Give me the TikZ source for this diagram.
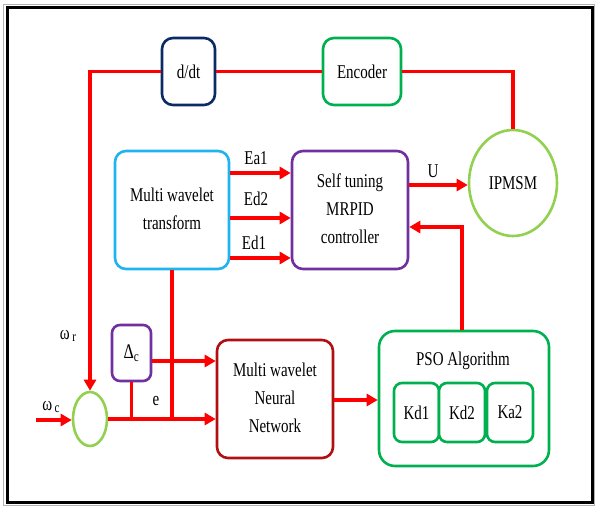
\documentclass[tikz,border=0pt]{standalone}
\usepackage{fontspec}
\setmainfont{Liberation Serif}
\usepackage{graphicx}
\usetikzlibrary{arrows.meta,shapes.geometric,calc}
\definecolor{navyb}{HTML}{0B2A66}
\definecolor{grn}{HTML}{00B050}
\definecolor{lgrn}{HTML}{92D050}
\definecolor{cyanb}{HTML}{1FB4F0}
\definecolor{purp}{HTML}{7030A0}
\definecolor{dred}{HTML}{B01010}
\definecolor{wirec}{HTML}{FF0000}
\newcommand\vt[1]{\scalebox{1}[1.3]{#1}}
\newcommand\ml[1]{\vt{\begin{tabular}{@{}c@{}}#1\end{tabular}}}
\begin{document}
\begin{tikzpicture}[x=1pt,y=-1pt,
  box/.style={draw, line width=2.6pt, rounded corners=11pt, align=center, inner sep=0pt, fill=white, font=\fontsize{15}{21.5}\selectfont},
  circ/.style={draw=lgrn, line width=2.6pt, ellipse, inner sep=0pt, font=\fontsize{15}{18}\selectfont},
  wire/.style={draw=wirec, line width=3.2pt},
  arr/.style={wire, -{Triangle[length=11pt,width=12pt]}},
  lab/.style={font=\fontsize{15}{18}\selectfont, inner sep=0pt}]
\useasboundingbox (0,0) rectangle (595,506);
\draw[gray!60, line width=1pt] (3.5,4) rectangle (594.5,505);
\draw[line width=3pt] (7,7.5) rectangle (592,502);
% nodes
\node[box, draw=navyb, minimum width=53pt, minimum height=67pt] (ddt) at (188.5,71.5) {\vt{d/dt}};
\node[box, draw=grn, minimum width=78pt, minimum height=67pt] (enc) at (362,71.5) {\vt{Encoder}};
\node[circ, minimum width=88pt, minimum height=106pt] (ipm) at (513,183) {\vt{IPMSM}};
\node[box, draw=cyanb, minimum width=114pt, minimum height=118pt] (mwt) at (172,210) {\ml{Multi wavelet\\transform}};
\node[box, draw=purp, minimum width=116pt, minimum height=118pt] (ctrl) at (350,210) {\ml{Self tuning\\MRPID\\controller}};
\node[circ, minimum width=34pt, minimum height=54pt] (sum) at (90,419) {};
\node[box, draw=purp, rounded corners=8pt, minimum width=39pt, minimum height=56pt, font=\fontsize{16}{18}\selectfont] (dlt) at (131.5,353) {\vt{Δ\textsubscript{c}}};
\node[box, draw=dred, minimum width=116pt, minimum height=118pt] (mwnn) at (275,399) {\ml{Multi wavelet\\Neural\\Network}};
\node[box, draw=grn, rounded corners=16pt, minimum width=170pt, minimum height=135pt] (pso) at (464,398.5) {};
\node[lab] (psot) at (463,361) {\vt{PSO Algorithm}};
\node[box, draw=grn, rounded corners=8pt, minimum width=45pt, minimum height=59pt] (kd1) at (416.5,412.5) {\vt{Kd1}};
\node[box, draw=grn, rounded corners=8pt, minimum width=46pt, minimum height=59pt] (kd2) at (462,412.5) {\vt{Kd2}};
\node[box, draw=grn, rounded corners=8pt, minimum width=46pt, minimum height=59pt] (ka2) at (510,412.5) {\vt{Ka2}};
% coordinates
\coordinate (yEa) at (0,173);
\coordinate (yEd2) at (0,218);
\coordinate (yEd1) at (0,258);
\coordinate (yU) at (0,185);
\coordinate (fb) at (462,227);
\coordinate (yD) at (0,361);
\coordinate (yE) at (0,419);
\coordinate (yP) at (0,400);
\coordinate (wcin) at (36,420);
% connectors
\draw[wire] (ddt.east) -- (enc.west);
\draw[wire] (enc.east) -| (ipm.north);
\draw[arr] (ddt.west) -| (sum.north);
\draw[arr] (mwt.east |- yEa) -- (ctrl.west |- yEa);
\draw[arr] (mwt.east |- yEd2) -- (ctrl.west |- yEd2);
\draw[arr] (mwt.east |- yEd1) -- (ctrl.west |- yEd1);
\draw[arr] (ctrl.east |- yU) -- (ipm.west |- yU);
\draw[arr] (pso.north -| fb) |- (ctrl.east |- fb);
\draw[wire] (mwt.south) -- (mwt.south |- yE);
\draw[wire] (dlt.south) -- (dlt.south |- yE);
\draw[arr] (sum.east |- yE) -- (mwnn.west |- yE);
\draw[arr] (dlt.east |- yD) -- (mwnn.west |- yD);
\draw[arr] (mwnn.east |- yP) -- (pso.west |- yP);
\draw[arr] (wcin) -- (sum.west |- wcin);
% labels
\node[lab] (lEa) at (256,158) {\vt{Ea1}};
\node[lab] (lEd2) at (256,199) {\vt{Ed2}};
\node[lab] (lEd1) at (254,243) {\vt{Ed1}};
\node[lab] (lU) at (433,171) {\vt{U}};
\node[lab] (le) at (156,401) {\vt{e}};
\node[lab, font=\fontsize{15}{17}\selectfont] (lwr) at (68,336) {\vt{ω\,\raisebox{-2pt}{\fontsize{11}{12}\selectfont r}}};
\node[lab, font=\fontsize{15}{17}\selectfont] (lwc) at (51,407) {\vt{ω\,\raisebox{-2pt}{\fontsize{11}{12}\selectfont c}}};
\end{tikzpicture}
\end{document}
